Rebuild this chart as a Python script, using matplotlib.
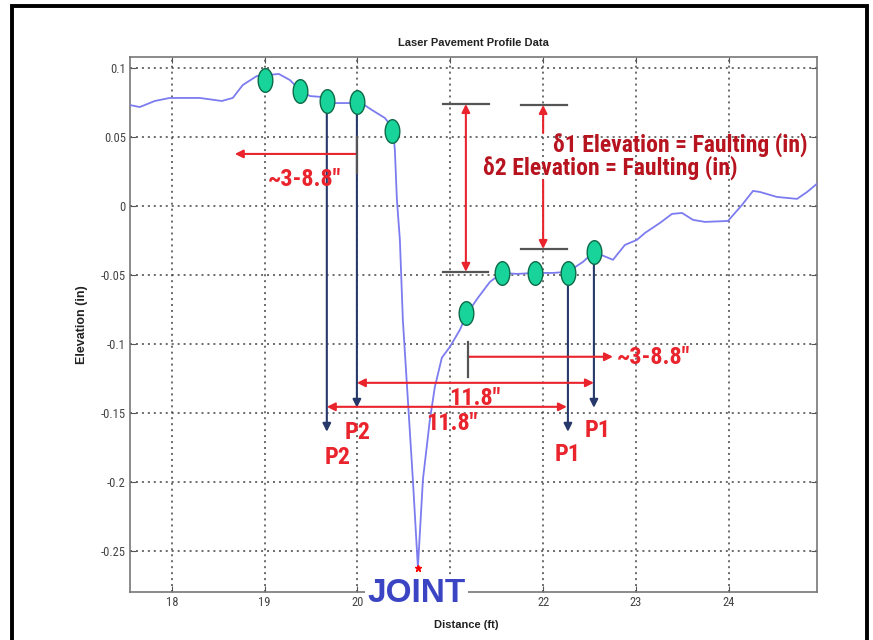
import numpy as np
import matplotlib
matplotlib.use("Agg")
import matplotlib.pyplot as plt
from matplotlib import font_manager
from matplotlib.path import Path
from matplotlib.patches import Rectangle

# profile trace (distance in ft, elevation in in)
dist_ft = [17.547, 17.655, 17.817, 17.978, 18.302, 18.539, 18.657, 18.765, 18.916, 19.153,
           19.272, 19.379, 19.487, 19.616, 19.756, 19.918, 20.026, 20.155, 20.295, 20.381,
           20.403, 20.425, 20.457, 20.489, 20.543, 20.597, 20.651, 20.705, 20.780, 20.834,
           20.909, 20.996, 21.103, 21.179, 21.297, 21.427, 21.556, 21.718, 21.912, 22.106,
           22.267, 22.429, 22.547, 22.752, 22.881, 23.011, 23.097, 23.259, 23.388, 23.496,
           23.614, 23.744, 23.991, 24.142, 24.261, 24.336, 24.519, 24.735, 24.843, 24.961]
elev_in = [0.0732, 0.0717, 0.0761, 0.0783, 0.0783, 0.0761, 0.0783, 0.0877, 0.0942, 0.0957,
           0.0913, 0.0841, 0.0797, 0.0790, 0.0746, 0.0746, 0.0754, 0.0696, 0.0638, 0.0565,
           0.0406, 0.0043, -0.0246, -0.0826, -0.1406, -0.1986, -0.2623, -0.1986, -0.1551, -0.1312,
           -0.1101, -0.1022, -0.0899, -0.0783, -0.0667, -0.0551, -0.0486, -0.0493, -0.0486, -0.0486,
           -0.0478, -0.0406, -0.0333, -0.0391, -0.0283, -0.0246, -0.0196, -0.0123, -0.0058, -0.0051,
           -0.0101, -0.0116, -0.0109, 0.0007, 0.0109, 0.0101, 0.0065, 0.0051, 0.0101, 0.0167]

# sample points picked along each slab
pts_x = [19.002, 19.379, 19.670, 19.994, 20.371, 21.168, 21.556, 21.912, 22.267, 22.547]
pts_y = [0.0913, 0.0833, 0.0761, 0.0754, 0.0543, -0.0775, -0.0486, -0.0486, -0.0486, -0.0333]

joint_x = 20.651
joint_y = -0.2623

x_ticks = [18, 19, 20, 21, 22, 23, 24]
x_labels = ["18", "19", "20", "", "22", "23", "24"]
y_ticks = [0.1, 0.05, 0, -0.05, -0.1, -0.15, -0.2, -0.25]
y_labels = ["0.1", "0.05", "0", "-0.05", "-0.1", "-0.15", "-0.2", "-0.25"]

names = {f.name for f in font_manager.fontManager.ttflist}


def pick(*opts):
    return next((o for o in opts if o in names), "DejaVu Sans")


cond = pick("Ubuntu Condensed", "Roboto Condensed", "Archivo Narrow", "PT Sans Narrow")
tick_font = pick("Roboto Condensed", "Arimo", "Liberation Sans")
arial = pick("Liberation Sans", "Arimo")
fam_c = [cond, "DejaVu Sans"]

RED = "#e9242c"
DARKRED = "#b8141f"
NAVY = "#27386a"
GRAY = "#555555"

fig = plt.figure(figsize=(8.73, 6.40), dpi=100)
ax = fig.add_axes([130 / 873, 48 / 640, 687 / 873, 535 / 640])

ax.plot(dist_ft, elev_in, color="#7c7cf0", lw=1.3, zorder=3)
ax.plot(joint_x, joint_y, marker="*", color="red", ms=5, zorder=4)

# tall ellipse marker
t = np.linspace(0, 2 * np.pi, 60)
ell = Path(np.column_stack([0.62 * np.cos(t), np.sin(t)]), closed=True)
ax.plot(pts_x, pts_y, ls="none", marker=ell, ms=17, mfc="#18d49b",
        mec="#0d6a48", mew=1.0, zorder=6)

ax.set_xlim(17.55, 24.95)
ax.set_ylim(-0.28, 0.108)
ax.set_xticks(x_ticks)
ax.set_xticklabels(x_labels)
ax.set_yticks(y_ticks)
ax.set_yticklabels(y_labels)
ax.tick_params(direction="in", length=4, top=True, right=True, colors=GRAY,
               labelsize=9, pad=3)
for lab in ax.get_xticklabels() + ax.get_yticklabels():
    lab.set_family(tick_font)
    lab.set_color("#444444")
ax.grid(True, color="#444444", lw=1.1, ls=(0, (1.3, 2.6)))
for sp in ax.spines.values():
    sp.set_color("#777777")
    sp.set_linewidth(1.2)

ax.set_title("Laser Pavement Profile Data", fontsize=8, fontweight="bold",
             family=arial, color="#222222", pad=8)
ax.set_xlabel("Distance (ft)", fontsize=8, fontweight="bold", family=arial, color="#222222")
ax.xaxis.set_label_coords(0.49, -0.052)
ax.set_ylabel("Elevation (in)", fontsize=9, fontweight="bold", family=arial, color="#222222")
ax.yaxis.set_label_coords(-0.061, 0.50)


def arrow(x0, y0, x1, y1, color, style="-|>", lw=1.5, z=5):
    ax.annotate("", xy=(x1, y1), xytext=(x0, y0),
                arrowprops=dict(arrowstyle=style, color=color, lw=lw,
                                mutation_scale=12, shrinkA=0, shrinkB=0),
                zorder=z)


# drop lines from the picked points
arrow(19.670, 0.0761, 19.670, -0.1638, NAVY)
arrow(19.994, 0.0754, 19.994, -0.1464, NAVY)
arrow(22.267, -0.0486, 22.267, -0.1638, NAVY)
arrow(22.547, -0.0333, 22.547, -0.1464, NAVY)

# spacing arrows
arrow(19.994, 0.0377, 18.679, 0.0377, RED)
ax.plot([19.994, 19.994], [0.05, 0.0239], color=GRAY, lw=1.6, zorder=5)
arrow(21.190, -0.1094, 22.752, -0.1094, RED)
ax.plot([21.190, 21.190], [-0.0986, -0.1239], color=GRAY, lw=1.6, zorder=5)
arrow(19.994, -0.1283, 22.547, -0.1283, RED, style="<|-|>")
arrow(19.670, -0.1457, 22.256, -0.1457, RED, style="<|-|>")

# faulting height markers
ax.plot([20.920, 21.416], [0.0739, 0.0739], color=GRAY, lw=1.6, zorder=5)
ax.plot([20.920, 21.406], [-0.0478, -0.0478], color=GRAY, lw=1.6, zorder=5)
ax.plot([21.761, 22.256], [0.0732, 0.0732], color=GRAY, lw=1.6, zorder=5)
ax.plot([21.761, 22.256], [-0.0312, -0.0312], color=GRAY, lw=1.6, zorder=5)
arrow(21.168, 0.0739, 21.168, -0.0478, RED, style="<|-|>")
arrow(22.0, 0.0529, 22.0, 0.0732, RED)
arrow(22.0, 0.0188, 22.0, -0.0312, RED)


def label(x, y, s, color, ha="center", size=17.5):
    ax.text(x, y, s, color=color, ha=ha, va="center", fontsize=size, family=fam_c,
            fontweight="bold", zorder=8)


label(19.433, 0.0188, "~3-8.8\u2033", RED)
label(22.795, -0.1101, "~3-8.8\u2033", RED, ha="left")
label(21.265, -0.1399, "11.8\u2033", RED)
label(21.017, -0.1580, "11.8\u2033", RED)
label(19.789, -0.1826, "P2", RED)
label(20.004, -0.1645, "P2", RED)
label(22.267, -0.1804, "P1", RED)
label(22.591, -0.1630, "P1", RED)
label(22.106, 0.0442, "\u03b41 Elevation = Faulting (in)", DARKRED, ha="left", size=17)
label(21.351, 0.0275, "\u03b42 Elevation = Faulting (in)", DARKRED, ha="left", size=17)

ax.text(20.635, -0.2812, "JOINT", color="#3b45c4", fontsize=24, fontweight="bold",
        family=arial, ha="center", va="center", zorder=10, clip_on=False,
        bbox=dict(facecolor="white", edgecolor="none", pad=1.5))

# outer frame
fig.patches.append(Rectangle((12 / 873, -0.05), 855 / 873, 1.05 - 6 / 640,
                             transform=fig.transFigure, fill=False,
                             edgecolor="black", lw=2.8))

fig.savefig("out.png", dpi=100)
